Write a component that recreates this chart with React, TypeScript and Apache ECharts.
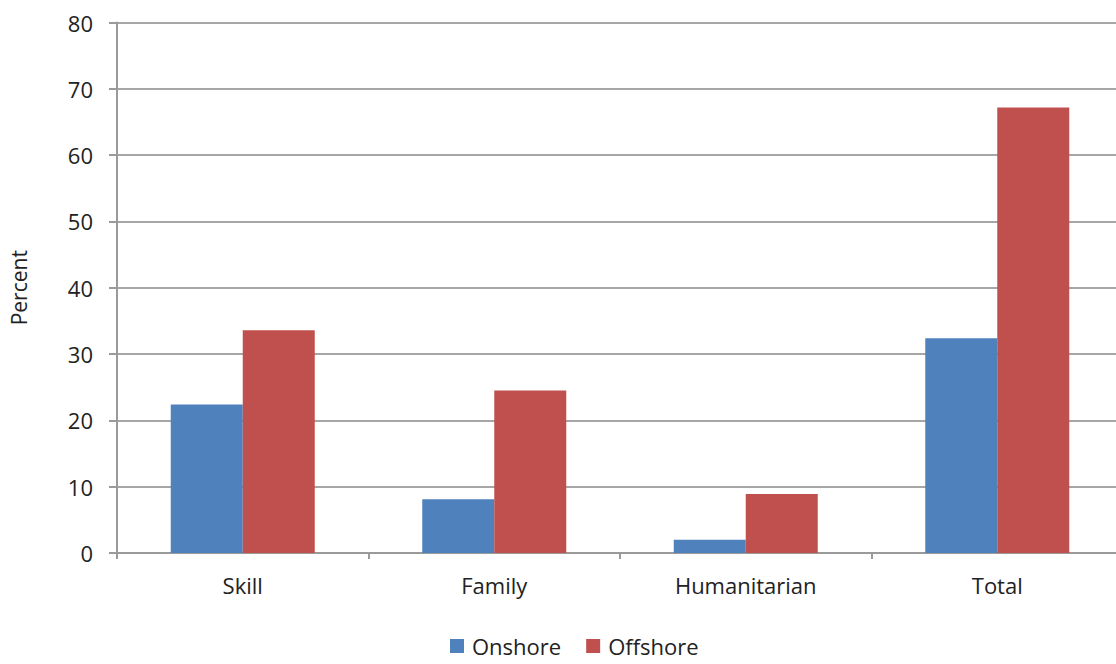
import React, { useEffect, useRef } from "react";
import * as echarts from "echarts";

const categories = ["Skill", "Family", "Humanitarian", "Total"];
const onshore = [22.4, 8.1, 2.0, 32.4];
const offshore = [33.6, 24.5, 8.9, 67.2];
const seriesNames = ["Onshore", "Offshore"];
const yMin = 0;
const yMax = 80;
const yInterval = 10;

const FONT = "'Open Sans', 'Noto Sans', sans-serif";

export default function App() {
  const ref = useRef<HTMLDivElement>(null);
  useEffect(() => {
    if (!ref.current) return;
    const chart = echarts.init(ref.current, undefined, { renderer: "svg" });
    chart.setOption({
      animation: false,
      backgroundColor: "#ffffff",
      textStyle: { fontFamily: FONT, color: "#222" },
      grid: { left: 114, right: 0, top: 22.5, bottom: 111, containLabel: false },
      legend: {
        data: seriesNames,
        top: 632,
        left: 445,
        padding: [2, 5, 2, 5],
        itemWidth: 14,
        itemHeight: 14,
        itemGap: 25,
        icon: "rect",
        textStyle: { fontFamily: FONT, fontSize: 22, lineHeight: 24, color: "#222", padding: [0, 0, 0, 3] },
      },
      xAxis: {
        type: "category",
        data: categories,
        axisLine: { show: true, lineStyle: { color: "#9a9a9a", width: 2 } },
        axisTick: { show: true, alignWithLabel: false, length: 6, lineStyle: { color: "#9a9a9a", width: 2 } },
        axisLabel: { fontFamily: FONT, fontSize: 22, color: "#222", margin: 21 },
        splitLine: { show: false },
      },
      yAxis: {
        type: "value",
        min: yMin,
        max: yMax,
        interval: yInterval,
        name: "Percent",
        nameLocation: "middle",
        nameGap: 88,
        nameRotate: 90,
        nameTextStyle: { fontFamily: FONT, fontSize: 21, color: "#222" },
        axisLine: { show: true, lineStyle: { color: "#9a9a9a", width: 2 } },
        axisTick: { show: true, length: 8, inside: false, lineStyle: { color: "#9a9a9a", width: 2 } },
        axisLabel: { fontFamily: FONT, fontSize: 22, color: "#222", margin: 24 },
        splitLine: { show: true, lineStyle: { color: "#a6a6a6", width: 2 } },
      },
      series: [
        {
          name: seriesNames[0],
          type: "bar",
          data: onshore,
          barWidth: 72,
          barGap: "0%",
          itemStyle: { color: "#4f81bd" },
        },
        {
          name: seriesNames[1],
          type: "bar",
          data: offshore,
          barWidth: 72,
          barGap: "0%",
          itemStyle: { color: "#c0504d" },
        },
      ],
    });
    return () => chart.dispose();
  }, []);
  return (
    <div
      style={{ position: "absolute", left: 0, top: 0, width: 1116, height: 664, overflow: "hidden" }}
    >
      <div ref={ref} style={{ position: "absolute", left: 0, top: 0, width: 1123, height: 664 }} />
    </div>
  );
}
